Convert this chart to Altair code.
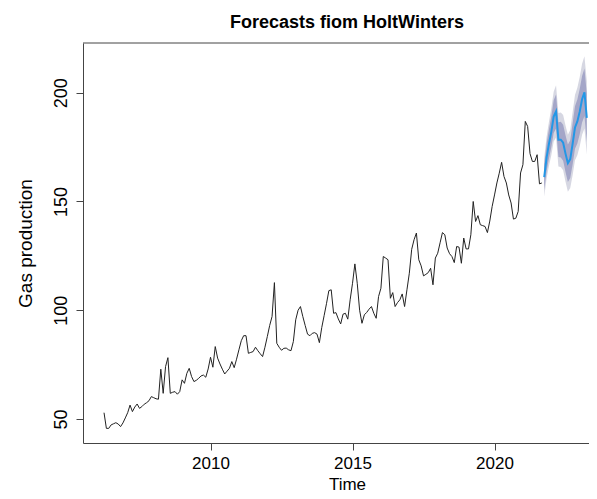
import altair as alt
import pandas as pd

# Observed monthly gas production, starting April 2006
start_year = 2006
start_month = 4
obs_values = [
    52.9, 45.7, 45.7, 47.3, 47.8, 48.3, 47.7, 46.5, 48.2, 50.5, 52.9, 56.4,
    53.4, 55.5, 56.9, 54.9, 55.7, 56.8, 57.5, 58.4, 60.3, 59.8, 59.3, 59.1,
    72.9, 61.8, 74.1, 78.2, 61.8, 62.3, 62.6, 61.4, 62.6, 68.0, 66.4, 71.0,
    73.3, 69.5, 67.2, 67.8, 68.7, 69.8, 70.2, 69.2, 73.0, 78.4, 73.8, 83.3,
    78.0, 75.3, 72.9, 70.7, 72.0, 73.3, 76.4, 73.6, 77.5, 81.8, 86.0, 88.3,
    88.3, 80.2, 80.6, 81.0, 83.0, 81.4, 80.0, 78.7, 83.0, 87.9, 93.0, 97.1,
    112.7, 84.8, 83.0, 81.6, 82.5, 82.6, 81.8, 81.4, 85.6, 95.6, 100.0, 101.7,
    97.1, 93.0, 89.0, 88.3, 89.4, 89.7, 89.0, 85.1, 92.0, 97.5, 103.0, 109.0,
    109.4, 98.6, 98.9, 96.0, 93.7, 98.2, 98.6, 95.9, 104.8, 112.4, 121.3, 112.4,
    100.0, 94.0, 97.9, 99.0, 100.5, 101.7, 98.6, 96.3, 106.3, 110.1, 124.7, 124.0,
    123.2, 105.5, 108.1, 101.7, 103.5, 104.8, 107.5, 101.7, 109.4, 117.0, 128.0, 132.4,
    135.5, 123.2, 120.4, 115.8, 116.5, 117.3, 119.3, 111.7, 124.0, 126.2, 131.0, 135.7,
    134.7, 128.6, 126.0, 124.7, 121.9, 129.3, 129.0, 121.6, 133.2, 128.2, 128.2, 134.7,
    150.0, 140.8, 143.5, 139.3, 138.9, 138.5, 135.7, 141.0, 147.7, 153.0, 158.5, 163.0,
    168.0, 161.5, 158.5, 153.0, 149.3, 141.9, 142.3, 145.4, 163.1, 166.9, 186.8, 184.5,
    172.0, 168.4, 168.4, 171.5, 158.1, 158.5,
]

# HoltWinters point forecasts (Oct 2021 onward) and interval half-widths
fc_mean = [161.2, 170.2, 176.5, 182.0, 189.0, 191.4, 178.4, 178.4, 177.0, 172.0,
           167.6, 169.5, 176.5, 184.0, 186.8, 191.3, 197.0, 200.2, 188.4]
half80 = [5.9, 6.3, 6.7, 7.1, 7.5, 7.8, 8.0, 8.2, 8.3, 8.4,
          8.6, 8.7, 9.5, 9.8, 10.1, 10.4, 10.7, 10.9, 11.1]
half95 = [9.0, 9.6, 10.2, 10.8, 11.4, 12.0, 12.3, 12.5, 12.7, 12.9,
          13.1, 13.3, 14.5, 15.0, 15.5, 15.9, 16.3, 16.6, 16.9]

x_ticks = [2010, 2015, 2020]
y_ticks = [50, 100, 150, 200]
main_title = ["Forecasts fiom HoltWinters"]

t0 = start_year + (start_month - 1) / 12
obs = pd.DataFrame({
    "t": [t0 + i / 12 for i in range(len(obs_values))],
    "v": obs_values,
})
n = len(obs_values)
fc = pd.DataFrame({
    "t": [t0 + (n + i) / 12 for i in range(len(fc_mean))],
    "m": fc_mean,
    "lo80": [m - h for m, h in zip(fc_mean, half80)],
    "hi80": [m + h for m, h in zip(fc_mean, half80)],
    "lo95": [m - h for m, h in zip(fc_mean, half95)],
    "hi95": [m + h for m, h in zip(fc_mean, half95)],
})
title_df = pd.DataFrame({"label": main_title})

FONT = "Liberation Sans"
W, H = 506, 400
PX_PER_YEAR = 28.4
x_left = 2005.51
xscale = alt.Scale(domain=[x_left, x_left + W / PX_PER_YEAR], nice=False, zero=False)
yscale = alt.Scale(domain=[38.97, 222.85], nice=False, zero=False)

xaxis = alt.Axis(values=x_ticks, format="d", grid=False, tickSize=7,
                 labelFontSize=17, labelFont=FONT, labelColor="black",
                 labelPadding=5, domainColor="#444", tickColor="#444",
                 title="Time", titleFont=FONT, titleFontSize=17,
                 titleFontWeight="normal", titleColor="black",
                 titleX=264, titleY=46, titleBaseline="alphabetic",
                 titleAlign="center", labelFlush=False, labelOverlap=False)
yaxis = alt.Axis(values=y_ticks, grid=False, tickSize=7,
                 labelFontSize=18, labelFont=FONT, labelColor="black",
                 labelAngle=270, labelAlign="center", labelBaseline="bottom",
                 labelPadding=6, domainColor="#444", tickColor="#444",
                 title="Gas production", titleFont=FONT, titleFontSize=19,
                 titleFontWeight="normal", titleColor="black",
                 titleAngle=270, titleX=-52, titleY=200,
                 titleBaseline="alphabetic", titleAlign="center",
                 labelFlush=False, labelOverlap=False)

base_fc = alt.Chart(fc)

band95 = base_fc.mark_area(color="#D6D7E2", opacity=1).encode(
    x=alt.X("t:Q", scale=xscale, axis=xaxis),
    y=alt.Y("lo95:Q", scale=yscale, axis=yaxis),
    y2="hi95:Q",
)
band80 = base_fc.mark_area(color="#A4A6C8", opacity=1).encode(
    x=alt.X("t:Q", scale=xscale),
    y=alt.Y("lo80:Q", scale=yscale),
    y2="hi80:Q",
)
obs_line = alt.Chart(obs).mark_line(color="#222222", strokeWidth=1).encode(
    x=alt.X("t:Q", scale=xscale),
    y=alt.Y("v:Q", scale=yscale),
)
fc_line = base_fc.mark_line(color="#2297E6", strokeWidth=2).encode(
    x=alt.X("t:Q", scale=xscale),
    y=alt.Y("m:Q", scale=yscale),
)
top_border = alt.Chart(title_df).mark_rule(color="#444", strokeWidth=1).encode(
    x=alt.value(0), x2=alt.value(W), y=alt.value(0)
)
title_text = alt.Chart(title_df).mark_text(
    font=FONT, fontSize=18, fontWeight="bold", color="black",
    align="center", baseline="alphabetic"
).encode(x=alt.value(264), y=alt.value(-15), text="label:N")

chart = alt.layer(band95, band80, obs_line, fc_line, top_border, title_text).properties(
    width=W, height=H,
    autosize=alt.AutoSizeParams(type="none"),
    padding={"left": 75, "top": 35, "right": 0, "bottom": 50},
).configure_view(stroke=None)

chart.save("out.html", embed_options={"renderer": "svg", "actions": False})
